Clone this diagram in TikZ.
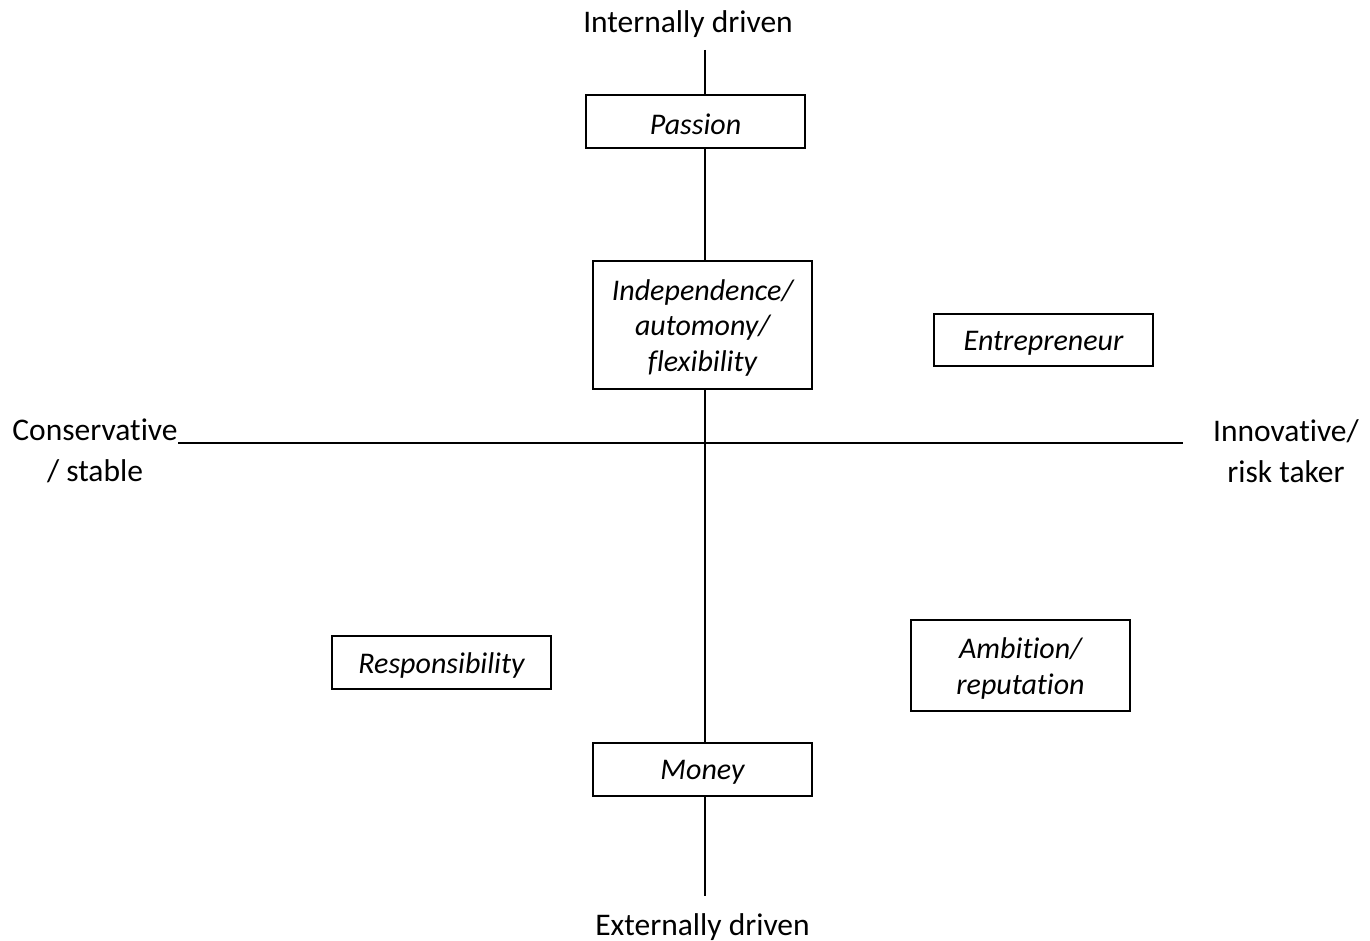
\documentclass[tikz,border=0pt]{standalone}
\usepackage{fontspec}
\setmainfont[Ligatures=NoCommon]{Carlito}
\begin{document}
\begin{tikzpicture}[x=1pt,y=-1pt,
  axis/.style={draw=black, line width=2pt},
  boxtext/.style={align=center, inner sep=0pt, yshift=-3pt,
    font=\fontsize{30}{35.5}\selectfont\itshape},
  box/.style={draw=black, fill=white, line width=2pt, minimum width=219pt, inner sep=0pt,
    label={[boxtext]center:#1}},
  axislabel/.style={align=center, inner sep=0pt, font=\fontsize{31.5}{41}\selectfont}]
\useasboundingbox (0,0) rectangle (1370,941);
\coordinate (top) at (705,50);
\coordinate (bot) at (705,896);
\coordinate (lft) at (178,443);
\coordinate (rgt) at (1183,443);
\draw[axis] (top) -- (bot);
\draw[axis] (lft) -- (rgt);
\node[box={Passion}, minimum height=53pt] (passion) at (695.5,121.5) {};
\node[box={Independence/\\automony/\\flexibility}, minimum height=128pt] (indep) at (702.5,325) {};
\node[box={Entrepreneur}, minimum height=52pt] (entre) at (1043.5,340) {};
\node[box={Responsibility}, minimum height=53pt] (resp) at (441.5,662.5) {};
\node[box={Ambition/\\reputation}, minimum height=91pt] (ambit) at (1020.5,665.5) {};
\node[box={Money}, minimum height=53pt] (money) at (702.5,769.5) {};
\node[axislabel, anchor=base] (intl) at (688,33) {Internally driven};
\node[axislabel, anchor=base] (extl) at (702.5,935) {Externally driven};
\node[axislabel] (cons) at (95,451) {Conservative\\/ stable};
\node[axislabel] (innov) at (1286,451) {Innovative/\\risk taker};
\end{tikzpicture}
\end{document}
